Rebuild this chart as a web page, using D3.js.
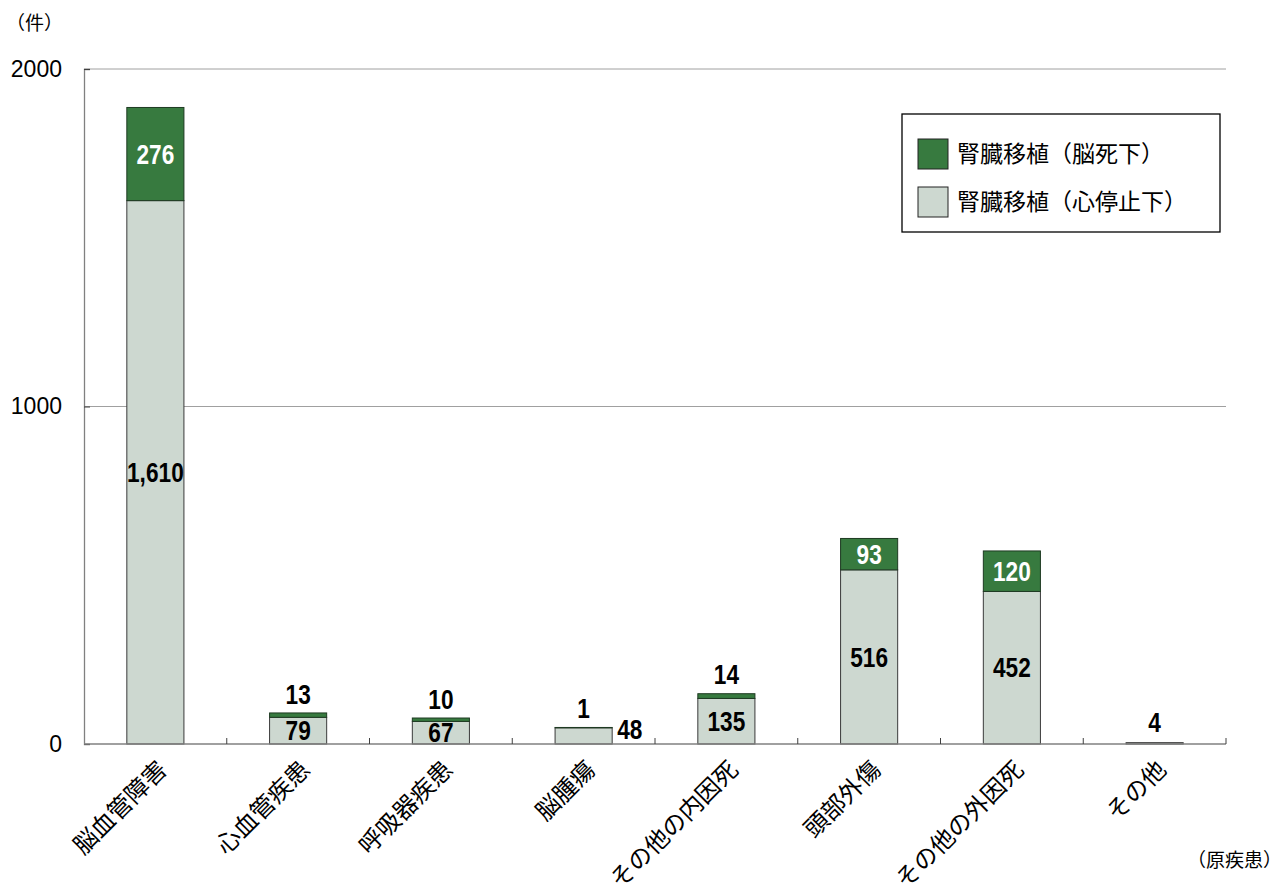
<!DOCTYPE html>
<html>
<head>
<meta charset="utf-8">
<script src="https://cdn.jsdelivr.net/npm/d3@7"></script>
<style>
  html, body { margin: 0; padding: 0; background: #fff; }
  svg { display: block; }
</style>
</head>
<body>
<svg id="chart" width="1283" height="883"></svg>
<script>
const categories = ["脳血管障害", "心血管疾患", "呼吸器疾患", "脳腫瘍", "その他の内因死", "頭部外傷", "その他の外因死", "その他"];
const brainDeath = [276, 13, 10, 1, 14, 93, 120, 0];
const cardiacArrest = [1610, 79, 67, 48, 135, 516, 452, 4];
const seriesNames = ["腎臓移植（脳死下）", "腎臓移植（心停止下）"];
const yTicks = [0, 1000, 2000];
const yUnit = "（件）";
const xUnit = "（原疾患）";

(function () {
const GREEN = "#377a3f", GRAY = "#cdd8d0";
const JP = "'Noto Sans CJK JP', 'Noto Sans', sans-serif";
const NUM = "'Liberation Sans', Arial, sans-serif";
const LAT = "'Liberation Sans', Arial, sans-serif";

const svg = d3.select("#chart");
const pL = 84, pR = 1226, pT = 69, pB = 744;

const x = d3.scaleBand().domain(categories).range([pL, pR]).paddingInner(0.6).paddingOuter(0.3);
const y = d3.scaleLinear().domain([0, 2000]).range([pB, pT]);
const step = x.step(), bw = x.bandwidth();

// gridlines
svg.append("g").selectAll("line").data(yTicks.filter(d => d > 0)).join("line")
  .attr("x1", pL).attr("x2", pR).attr("y1", d => y(d)).attr("y2", d => y(d))
  .attr("stroke", "#a0a0a0").attr("stroke-width", 1);

// y axis
const yAxis = svg.append("g").attr("transform", `translate(${pL},0)`)
  .call(d3.axisLeft(y).tickValues(yTicks).tickSize(-6).tickPadding(22).tickFormat(d3.format("d")));
yAxis.select(".domain").attr("stroke", "#808080").attr("stroke-width", 1.3);
yAxis.selectAll(".tick line").attr("stroke", "#404040");
yAxis.selectAll("text").attr("font-family", LAT).attr("font-size", 23).attr("fill", "#000");

const data = categories.map((c, i) => ({ cat: c, bd: brainDeath[i], ca: cardiacArrest[i] }));

// bars
const bars = svg.append("g");
bars.selectAll("rect.ca").data(data).join("rect").attr("class", "ca")
  .attr("x", d => x(d.cat)).attr("width", bw)
  .attr("y", d => y(d.ca)).attr("height", d => y(0) - y(d.ca))
  .attr("fill", GRAY).attr("stroke", "#3a3a3a").attr("stroke-width", 1);
bars.selectAll("rect.bd").data(data.filter(d => d.bd > 0)).join("rect").attr("class", "bd")
  .attr("x", d => x(d.cat)).attr("width", bw)
  .attr("y", d => y(d.ca + d.bd)).attr("height", d => y(d.ca) - y(d.ca + d.bd))
  .attr("fill", GREEN).attr("stroke", "#1e3a22").attr("stroke-width", 1);

// x axis line + ticks
svg.append("line").attr("x1", pL).attr("x2", pR).attr("y1", pB).attr("y2", pB)
  .attr("stroke", "#808080").attr("stroke-width", 1.5);
const bounds = categories.map(c => x(c) + bw / 2 - step / 2).concat([x(categories[categories.length - 1]) + bw / 2 + step / 2]);
svg.append("g").selectAll("line").data(bounds.slice(1)).join("line")
  .attr("x1", d => d).attr("x2", d => d).attr("y1", pB).attr("y2", pB - 6)
  .attr("stroke", "#404040");

// category labels
svg.append("g").selectAll("text").data(categories).join("text")
  .attr("transform", c => `translate(${x(c) + bw / 2 + 13},${pB + 27}) rotate(-45)`)
  .attr("text-anchor", "end").attr("font-family", JP).attr("font-size", 24).attr("fill", "#000")
  .text(c => c);

// value labels
const LH = 22;
const labels = [];
data.forEach(d => {
  const cx = x(d.cat) + bw / 2;
  const segCa = y(0) - y(d.ca);
  const segBd = y(d.ca) - y(d.ca + d.bd);
  const topY = y(d.ca + d.bd);
  if (d.bd > 0) {
    if (segBd > LH) labels.push({ t: d3.format(",")(d.bd), x: cx, y: (y(d.ca) + topY) / 2, fill: "#fff", anchor: "middle" });
    else labels.push({ t: d3.format(",")(d.bd), x: cx, y: topY - 19, fill: "#000", anchor: "middle" });
  }
  if (segCa > LH) labels.push({ t: d3.format(",")(d.ca), x: cx, y: (y(0) + y(d.ca)) / 2, fill: "#000", anchor: "middle" });
  else if (d.bd > 0) labels.push({ t: d3.format(",")(d.ca), x: cx + bw / 2 + 5, y: y(d.ca) + 1, fill: "#000", anchor: "start" });
  else labels.push({ t: d3.format(",")(d.ca), x: cx, y: topY - 20, fill: "#000", anchor: "middle" });
});
svg.append("g").selectAll("text").data(labels).join("text")
  .attr("transform", d => `translate(${d.x},${d.y}) scale(0.84,1)`)
  .attr("dy", "0.36em")
  .attr("text-anchor", d => d.anchor).attr("fill", d => d.fill)
  .attr("font-family", NUM).attr("font-weight", "bold").attr("font-size", 27)
  .text(d => d.t);

// legend
const lg = svg.append("g");
lg.append("rect").attr("x", 902).attr("y", 114).attr("width", 318).attr("height", 118)
  .attr("fill", "#fff").attr("stroke", "#000").attr("stroke-width", 1.3);
const lcols = [GREEN, GRAY];
seriesNames.forEach((n, i) => {
  const yy = 139 + i * 48;
  lg.append("rect").attr("x", 918).attr("y", yy).attr("width", 30).attr("height", 30)
    .attr("fill", lcols[i]).attr("stroke", "#222").attr("stroke-width", 1);
  lg.append("text").attr("x", 957).attr("y", yy + 15).attr("dy", "0.36em")
    .attr("font-family", JP).attr("font-size", 23).attr("fill", "#000").text(n);
});

// units
svg.append("text").attr("x", 6).attr("y", 23).attr("dy", "0.36em")
  .attr("font-family", JP).attr("font-size", 19).attr("fill", "#000").text(yUnit);
svg.append("text").attr("x", 1282).attr("y", 860).attr("dy", "0.36em").attr("text-anchor", "end")
  .attr("font-family", JP).attr("font-size", 19).attr("fill", "#000").text(xUnit);
})();
</script>
</body>
</html>
